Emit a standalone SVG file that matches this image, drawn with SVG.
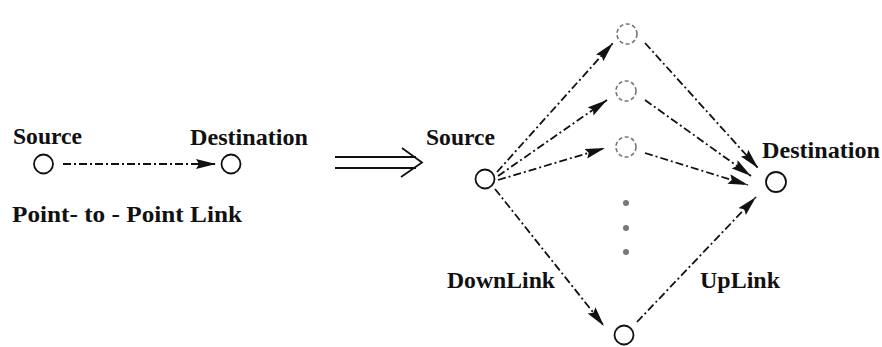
<svg xmlns="http://www.w3.org/2000/svg" width="882" height="347" viewBox="0 0 882 347">
<style>
.lbl{font-family:"Liberation Serif","Times New Roman",serif;font-weight:bold;font-size:23px;fill:#111}
.node{fill:none;stroke:#111;stroke-width:1.8}
.ghost{fill:none;stroke:#777;stroke-width:1.6;stroke-dasharray:4,2.5}
.link{fill:none;stroke:#111;stroke-width:1.8;stroke-dasharray:8,3,2,3;marker-end:url(#ah)}
.dot{fill:#777}
</style>
<defs>
<marker id="ah" markerUnits="userSpaceOnUse" markerWidth="22" markerHeight="11" refX="20" refY="5" orient="auto">
<path d="M0,0 L20,5 L0,10 L3,5 z" fill="#111"/>
</marker>
</defs>
<rect width="882" height="347" fill="#fff"/>
<g id="connectors">
<line class="link" x1="63" y1="164" x2="216" y2="164"/>
<line class="link" x1="497" y1="172" x2="613" y2="43"/>
<line class="link" x1="498" y1="176" x2="607" y2="100"/>
<line class="link" x1="498" y1="180" x2="605" y2="148"/>
<line class="link" x1="495" y1="189" x2="604" y2="326"/>
<line class="link" x1="645" y1="43" x2="758" y2="168"/>
<line class="link" x1="645" y1="100" x2="751" y2="176"/>
<line class="link" x1="645" y1="153" x2="748" y2="185"/>
<line class="link" x1="637" y1="322" x2="756" y2="197"/>
</g>
<g id="transform-arrow">
<line x1="335" y1="157" x2="416" y2="157" stroke="#111" stroke-width="1.8"/>
<line x1="335" y1="168" x2="416" y2="168" stroke="#111" stroke-width="1.8"/>
<polyline points="402,148 422,162.5 401,177" fill="none" stroke="#111" stroke-width="1.8"/>
</g>
<g id="p2p-source"><circle class="node" cx="43.5" cy="164" r="9.5"/><text class="lbl" x="13" y="144" textLength="69" lengthAdjust="spacingAndGlyphs">Source</text></g>
<g id="p2p-destination"><circle class="node" cx="231" cy="164" r="9.5"/><text class="lbl" x="190" y="145" textLength="118" lengthAdjust="spacingAndGlyphs">Destination</text></g>
<g id="p2p-caption"><text class="lbl" x="12" y="222" textLength="230" lengthAdjust="spacingAndGlyphs">Point- to - Point Link</text></g>
<g id="source"><circle class="node" cx="485" cy="179" r="9.5"/><text class="lbl" x="426" y="145" textLength="69" lengthAdjust="spacingAndGlyphs">Source</text></g>
<g id="relay1"><circle class="ghost" cx="627" cy="34" r="10"/></g>
<g id="relay2"><circle class="ghost" cx="626" cy="91" r="10"/></g>
<g id="relay3"><circle class="ghost" cx="626" cy="147" r="10"/></g>
<g id="relay-n"><circle class="node" cx="624" cy="335" r="9.5" stroke-width="1.4"/></g>
<g id="ellipsis"><circle class="dot" cx="626" cy="203" r="3"/><circle class="dot" cx="626" cy="228" r="3"/><circle class="dot" cx="626" cy="252" r="3"/></g>
<g id="destination"><circle class="node" cx="776" cy="182" r="10"/><text class="lbl" x="762" y="158" textLength="118" lengthAdjust="spacingAndGlyphs">Destination</text></g>
<g id="labels">
<text class="lbl" x="447" y="288" textLength="108" lengthAdjust="spacingAndGlyphs">DownLink</text>
<text class="lbl" x="700" y="288" textLength="80" lengthAdjust="spacingAndGlyphs">UpLink</text>
</g>
</svg>
